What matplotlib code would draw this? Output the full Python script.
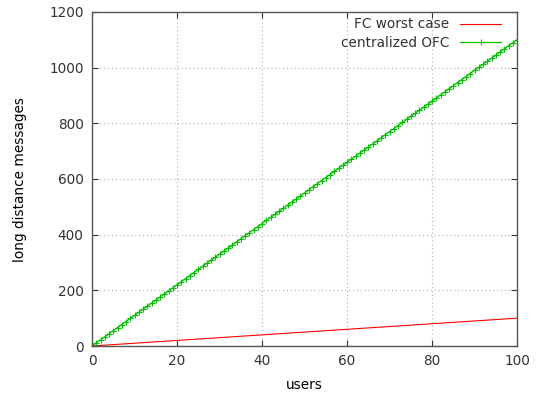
import matplotlib
matplotlib.use("Agg")
import matplotlib.pyplot as plt

users = [0, 1, 2, 3, 4, 5, 6, 7, 8, 9, 10, 11, 12, 13, 14, 15, 16, 17, 18, 19,
         20, 21, 22, 23, 24, 25, 26, 27, 28, 29, 30, 31, 32, 33, 34, 35, 36, 37, 38, 39,
         40, 41, 42, 43, 44, 45, 46, 47, 48, 49, 50, 51, 52, 53, 54, 55, 56, 57, 58, 59,
         60, 61, 62, 63, 64, 65, 66, 67, 68, 69, 70, 71, 72, 73, 74, 75, 76, 77, 78, 79,
         80, 81, 82, 83, 84, 85, 86, 87, 88, 89, 90, 91, 92, 93, 94, 95, 96, 97, 98, 99, 100]

fc_worst = [0, 1, 2, 3, 4, 5, 6, 7, 8, 9, 10, 11, 12, 13, 14, 15, 16, 17, 18, 19,
            20, 21, 22, 23, 24, 25, 26, 27, 28, 29, 30, 31, 32, 33, 34, 35, 36, 37, 38, 39,
            40, 41, 42, 43, 44, 45, 46, 47, 48, 49, 50, 51, 52, 53, 54, 55, 56, 57, 58, 59,
            60, 61, 62, 63, 64, 65, 66, 67, 68, 69, 70, 71, 72, 73, 74, 75, 76, 77, 78, 79,
            80, 81, 82, 83, 84, 85, 86, 87, 88, 89, 90, 91, 92, 93, 94, 95, 96, 97, 98, 99, 100]

central_ofc = [0, 11, 22, 33, 44, 55, 66, 77, 88, 99, 110, 121, 132, 143, 154, 165, 176, 187, 198, 209,
               220, 231, 242, 253, 264, 275, 286, 297, 308, 319, 330, 341, 352, 363, 374, 385, 396, 407, 418, 429,
               440, 451, 462, 473, 484, 495, 506, 517, 528, 539, 550, 561, 572, 583, 594, 605, 616, 627, 638, 649,
               660, 671, 682, 693, 704, 715, 726, 737, 748, 759, 770, 781, 792, 803, 814, 825, 836, 847, 858, 869,
               880, 891, 902, 913, 924, 935, 946, 957, 968, 979, 990, 1001, 1012, 1023, 1034, 1045, 1056, 1067, 1078, 1089, 1100]

xticks = [0, 20, 40, 60, 80, 100]
yticks = [0, 200, 400, 600, 800, 1000, 1200]

plt.rcParams['font.family'] = ['DejaVu Sans']
plt.rcParams['font.size'] = 9.8
plt.rcParams['text.color'] = '#333333'

fig = plt.figure(figsize=(5.44, 3.96), dpi=100)
ax = fig.add_axes([92/544, 50/396, 425/544, 334/396])

ax.plot(users, fc_worst, color='#ff0000', lw=0.8, label='FC worst case')
ax.plot(users, central_ofc, color='#00c000', lw=0.9, marker='+', ms=5, mew=0.8,
        label='centralized OFC')

ax.set_xlim(0, 100)
ax.set_ylim(0, 1200)
ax.set_xticks(xticks)
ax.set_yticks(yticks)
ax.grid(True, color='#b0b0b0', ls=(0, (1, 2.5)), lw=0.8)
ax.tick_params(direction='in', top=True, right=True, length=4, width=0.8,
               colors='#333333', labelcolor='#333333', pad=6)
for s in ax.spines.values():
    s.set_color('#555555')
    s.set_linewidth(1)

ax.set_xlabel('users', labelpad=7)
ax.set_ylabel('long distance messages', labelpad=16)

ax.legend(loc='upper right', frameon=False, markerfirst=False, numpoints=1,
          handlelength=3.0, borderaxespad=0.0, labelspacing=0.3,
          bbox_to_anchor=(0.975, 1.0))

fig.savefig('out.png', dpi=100)
